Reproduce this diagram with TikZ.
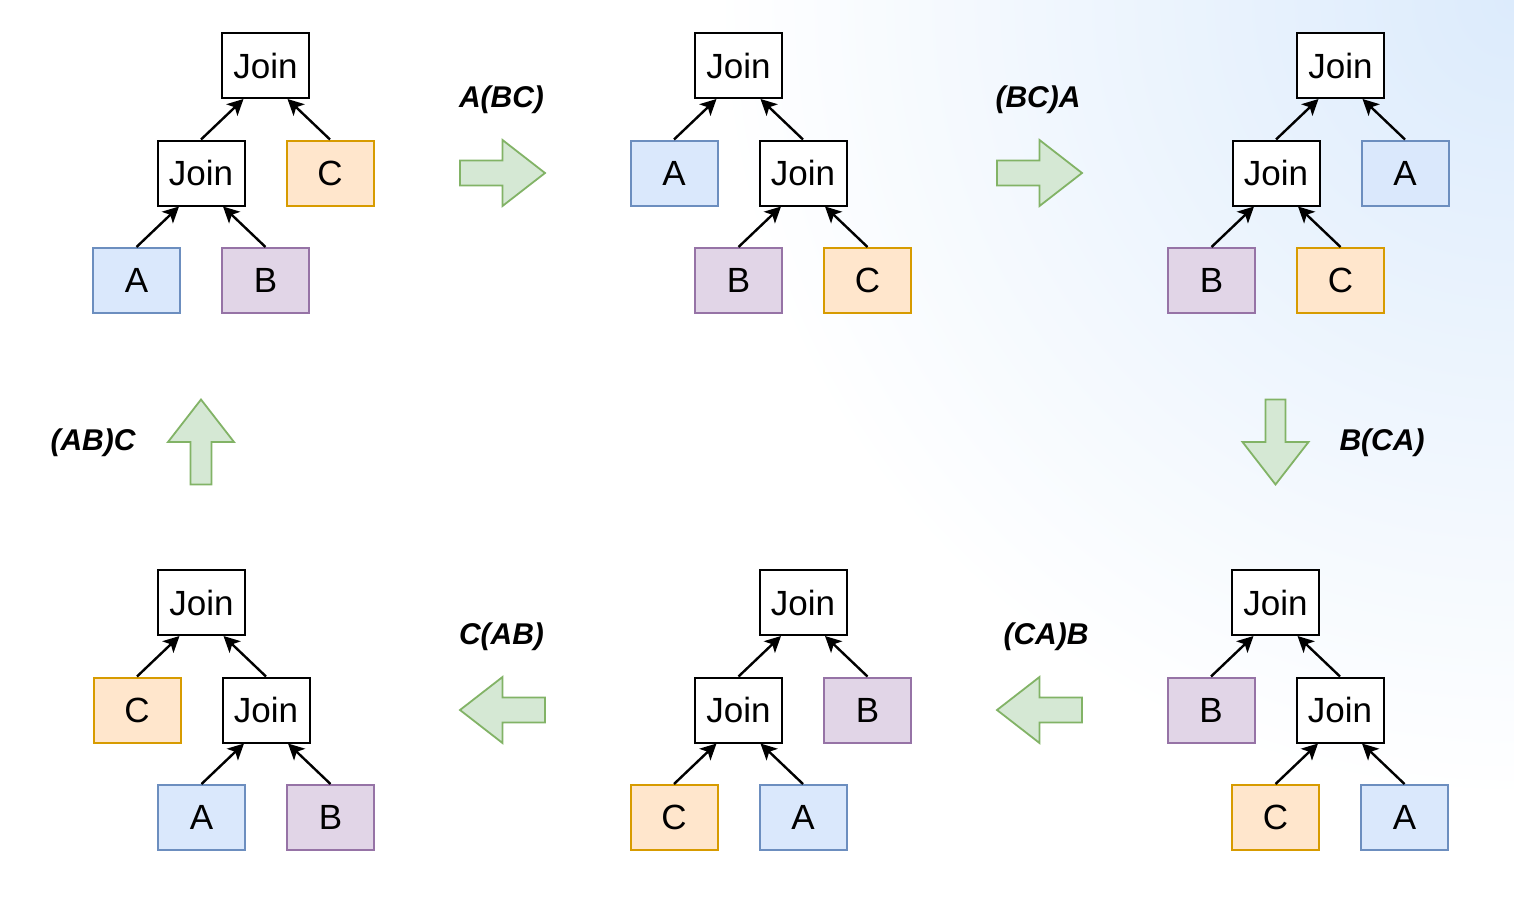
\documentclass[tikz,border=0pt]{standalone}
\usepackage{fontspec}
\setmainfont{Liberation Sans}
\usetikzlibrary{arrows.meta, calc}
\definecolor{blueFill}{HTML}{DAE8FC}
\definecolor{blueLine}{HTML}{6C8EBF}
\definecolor{purpleFill}{HTML}{E1D5E7}
\definecolor{purpleLine}{HTML}{9673A6}
\definecolor{orangeFill}{HTML}{FFE6CC}
\definecolor{orangeLine}{HTML}{D79B00}
\definecolor{greenFill}{HTML}{D5E8D4}
\definecolor{greenLine}{HTML}{82B366}
\definecolor{bgBlue}{HTML}{DCEBFC}
\tikzset{
    tbox/.style = {draw, line width=1pt, minimum width=43.5pt, minimum height=32.5pt,
        inner sep=0pt, font=\fontsize{17.5}{20}\selectfont},
    joinbox/.style = {tbox, fill=white},
    relA/.style = {tbox, draw=blueLine, fill=blueFill},
    relB/.style = {tbox, draw=purpleLine, fill=purpleFill},
    relC/.style = {tbox, draw=orangeLine, fill=orangeFill},
    edge/.style = {-{Stealth[length=8pt,width=8pt,inset=2pt]}, line width=1.2pt},
    order/.style = {font=\fontsize{15}{18}\selectfont\bfseries\itshape},
    pics/blockarrow/.style = {
        code = {%
        \draw[line width=.9pt, draw=greenLine, fill=greenFill]
            (-42.5,#1) -- (0,#1) -- (0,33) -- (42.5,0) -- (0,-33) -- (0,-#1) -- (-42.5,-#1) -- cycle;
        }
    },
}
\begin{document}
\begin{tikzpicture}[x=0.5pt, y=-0.5pt]
\useasboundingbox (0,0) rectangle (1514,906);
\fill[white] (0,0) rectangle (1514,906);
\begin{scope}
\clip (0,0) rectangle (1514,906);
\shade[inner color=bgBlue, outer color=white] (1514,0) circle[radius=800];
\end{scope}

% (AB)C
\node[joinbox] (t1) at (265.5,65.5) {Join};
\node[joinbox] (t1j) at ($(t1)+(-64.5,107.5)$) {Join};
\node[relC] (t1c) at ($(t1)+(64.5,107.5)$) {C};
\node[relA] (t1a) at ($(t1j)+(-64.5,107.5)$) {A};
\node[relB] (t1b) at ($(t1j)+(64.5,107.5)$) {B};
\draw[edge] (t1j.north) -- ($(t1.south)+(-22,0)$);
\draw[edge] (t1c.north) -- ($(t1.south)+(22,0)$);
\draw[edge] (t1a.north) -- ($(t1j.south)+(-22,0)$);
\draw[edge] (t1b.north) -- ($(t1j.south)+(22,0)$);

% A(BC)
\node[joinbox] (t2) at (738.5,65.5) {Join};
\node[relA] (t2a) at ($(t2)+(-64.5,107.5)$) {A};
\node[joinbox] (t2j) at ($(t2)+(64.5,107.5)$) {Join};
\node[relB] (t2b) at ($(t2j)+(-64.5,107.5)$) {B};
\node[relC] (t2c) at ($(t2j)+(64.5,107.5)$) {C};
\draw[edge] (t2a.north) -- ($(t2.south)+(-22,0)$);
\draw[edge] (t2j.north) -- ($(t2.south)+(22,0)$);
\draw[edge] (t2b.north) -- ($(t2j.south)+(-22,0)$);
\draw[edge] (t2c.north) -- ($(t2j.south)+(22,0)$);

% (BC)A
\node[joinbox] (t3) at (1340.5,65.5) {Join};
\node[joinbox] (t3j) at ($(t3)+(-64.5,107.5)$) {Join};
\node[relA] (t3a) at ($(t3)+(64.5,107.5)$) {A};
\node[relB] (t3b) at ($(t3j)+(-64.5,107.5)$) {B};
\node[relC] (t3c) at ($(t3j)+(64.5,107.5)$) {C};
\draw[edge] (t3j.north) -- ($(t3.south)+(-22,0)$);
\draw[edge] (t3a.north) -- ($(t3.south)+(22,0)$);
\draw[edge] (t3b.north) -- ($(t3j.south)+(-22,0)$);
\draw[edge] (t3c.north) -- ($(t3j.south)+(22,0)$);

% B(CA)
\node[joinbox] (t4) at (1275.5,602.5) {Join};
\node[relB] (t4b) at ($(t4)+(-64.5,107.5)$) {B};
\node[joinbox] (t4j) at ($(t4)+(64.5,107.5)$) {Join};
\node[relC] (t4c) at ($(t4j)+(-64.5,107.5)$) {C};
\node[relA] (t4a) at ($(t4j)+(64.5,107.5)$) {A};
\draw[edge] (t4b.north) -- ($(t4.south)+(-22,0)$);
\draw[edge] (t4j.north) -- ($(t4.south)+(22,0)$);
\draw[edge] (t4c.north) -- ($(t4j.south)+(-22,0)$);
\draw[edge] (t4a.north) -- ($(t4j.south)+(22,0)$);

% (CA)B
\node[joinbox] (t5) at (803,602.5) {Join};
\node[joinbox] (t5j) at ($(t5)+(-64.5,107.5)$) {Join};
\node[relB] (t5b) at ($(t5)+(64.5,107.5)$) {B};
\node[relC] (t5c) at ($(t5j)+(-64.5,107.5)$) {C};
\node[relA] (t5a) at ($(t5j)+(64.5,107.5)$) {A};
\draw[edge] (t5j.north) -- ($(t5.south)+(-22,0)$);
\draw[edge] (t5b.north) -- ($(t5.south)+(22,0)$);
\draw[edge] (t5c.north) -- ($(t5j.south)+(-22,0)$);
\draw[edge] (t5a.north) -- ($(t5j.south)+(22,0)$);

% C(AB)
\node[joinbox] (t6) at (201.5,602.5) {Join};
\node[relC] (t6c) at ($(t6)+(-64.5,107.5)$) {C};
\node[joinbox] (t6j) at ($(t6)+(64.5,107.5)$) {Join};
\node[relA] (t6a) at ($(t6j)+(-64.5,107.5)$) {A};
\node[relB] (t6b) at ($(t6j)+(64.5,107.5)$) {B};
\draw[edge] (t6c.north) -- ($(t6.south)+(-22,0)$);
\draw[edge] (t6j.north) -- ($(t6.south)+(22,0)$);
\draw[edge] (t6a.north) -- ($(t6j.south)+(-22,0)$);
\draw[edge] (t6b.north) -- ($(t6j.south)+(22,0)$);

% rewrite steps
\pic (s1) at (502.5,173) {blockarrow=12.5};
\node[order] (o1) at (501.5,100) {A(BC)};
\pic (s2) at (1039.5,173) {blockarrow=12.5};
\node[order] (o2) at (1038,100) {(BC)A};
\pic[rotate=-90] (s3) at (1275.5,442) {blockarrow=10};
\node[order] (o3) at (1382,443) {B(CA)};
\pic[rotate=180] (s4) at (1039.5,710) {blockarrow=12.5};
\node[order] (o4) at (1046,637) {(CA)B};
\pic[rotate=180] (s5) at (502.5,710) {blockarrow=12.5};
\node[order] (o5) at (501.5,637) {C(AB)};
\pic[rotate=90] (s6) at (201,442) {blockarrow=10.5};
\node[order] (o6) at (93,443) {(AB)C};
\end{tikzpicture}
\end{document}
